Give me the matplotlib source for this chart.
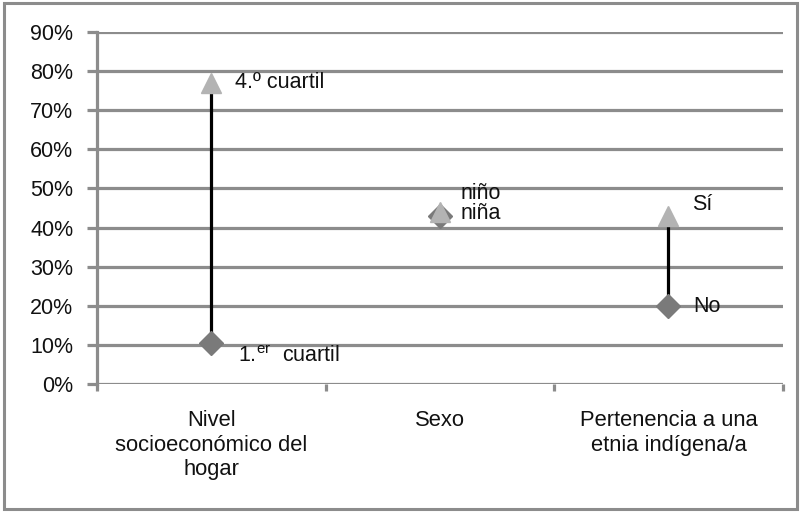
import matplotlib.pyplot as plt
from matplotlib.patches import Rectangle

plt.rcParams['font.family'] = ['Liberation Sans', 'DejaVu Sans']
plt.rcParams['mathtext.default'] = 'regular'

# data
categories = ['Nivel\nsocioeconómico del\nhogar', 'Sexo', 'Pertenencia a una\netnia indígena/a']
high_values = [77, 44, 43]     # 4.º cuartil, niño, Sí
low_values = [10.5, 43, 20]    # 1.er cuartil, niña, No
high_labels = ['4.º cuartil', 'niño', 'Sí']
low_labels = ['1.$^{er}$  cuartil', 'niña', 'No']
yticks = [0, 10, 20, 30, 40, 50, 60, 70, 80, 90]

fig = plt.figure(figsize=(8.02, 5.13), dpi=100)
ax = fig.add_axes([0.121, 0.2515, 0.855, 0.686])

grid_col = '#8c8c8c'
txt_col = '#111111'
fs = 15.5

for v in yticks:
    ax.axhline(v, color=grid_col, lw=2.3, zorder=1)

x = list(range(len(categories)))
for i in x:
    ax.plot([i, i], [low_values[i], high_values[i]], color='black', lw=2.3, zorder=2)
ax.plot(x, low_values, linestyle='none', marker='D', markersize=12.5, color='#7a7a7a', zorder=3)
ax.plot(x, high_values, linestyle='none', marker='^', markersize=15, color='#b3b3b3', zorder=4)

# point labels
ax.text(0.105, high_values[0], high_labels[0], fontsize=fs, va='center', ha='left', color=txt_col)
ax.text(0.115, low_values[0] - 3.4, low_labels[0], fontsize=fs, va='center', ha='left', color=txt_col)
ax.text(1.09, high_values[1] + 4.8, high_labels[1], fontsize=fs, va='center', ha='left', color=txt_col)
ax.text(1.09, low_values[1] + 0.5, low_labels[1], fontsize=fs, va='center', ha='left', color=txt_col)
ax.text(2.105, high_values[2] + 2.9, high_labels[2], fontsize=fs, va='center', ha='left', color=txt_col)
ax.text(2.11, low_values[2] - 0.2, low_labels[2], fontsize=fs, va='center', ha='left', color=txt_col)

ax.set_xlim(-0.5, 2.5)
ax.set_ylim(0, 90)
ax.set_yticks(yticks)
ax.set_yticklabels([f'{v}%' for v in yticks], fontsize=fs, color=txt_col)
ax.set_xticks(x)
ax.set_xticklabels(categories, fontsize=15.8, color=txt_col, linespacing=1.22, va='top')
ax.set_xticks([-0.5, 0.5, 1.5, 2.5], minor=True)
ax.tick_params(axis='x', which='major', length=0, pad=19)
ax.tick_params(axis='x', which='minor', length=5, width=2.3, color=grid_col, direction='out')
ax.tick_params(axis='y', length=7, width=2.3, color=grid_col, pad=10)

for s in ['top', 'right', 'bottom']:
    ax.spines[s].set_visible(False)
ax.spines['left'].set_color(grid_col)
ax.spines['left'].set_linewidth(2.3)

# outer border
fig.patches.append(Rectangle((0.005, 0.007), 0.989, 0.987, transform=fig.transFigure,
                             fill=False, edgecolor='#8c8c8c', lw=2.2))

plt.savefig('out.png')
plt.close()
